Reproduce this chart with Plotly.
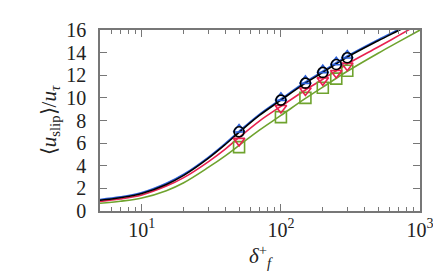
import plotly.graph_objects as go
import math

# curve sample points
x_curve = [5, 7, 10, 15, 20, 30, 40, 50, 70, 100, 150, 200, 300, 500, 700, 1000]
y_black = [0.95, 1.17, 1.55, 2.35, 3.15, 4.65, 5.9, 6.95, 8.45, 9.8, 11.3, 12.25, 13.6, 15.05, 15.95, 16.9]
y_blue = [1.02, 1.25, 1.63, 2.45, 3.25, 4.75, 6.0, 7.05, 8.55, 9.9, 11.4, 12.35, 13.7, 15.15, 16.05, 17.0]
y_red = [0.85, 1.06, 1.42, 2.2, 2.95, 4.35, 5.5, 6.5, 7.95, 9.25, 10.7, 11.65, 13.0, 14.5, 15.5, 16.6]
y_green = [0.68, 0.86, 1.15, 1.8, 2.5, 3.85, 4.9, 5.8, 7.15, 8.45, 9.95, 10.95, 12.35, 13.95, 14.95, 16.0]

# marker data
x_pts = [50, 100, 150, 200, 250, 300]
m_black = [7.0, 9.8, 11.3, 12.25, 12.95, 13.55]
m_blue = [7.2, 10.0, 11.5, 12.45, 13.15, 13.75]
m_red = [6.2, 9.1, 10.65, 11.55, 12.2, 12.85]
m_green = [5.65, 8.3, 10.0, 10.9, 11.7, 12.4]

x_ticks = [10, 100, 1000]
x_ticktext = ["10<sup>1</sup>", "10<sup>2</sup>", "10<sup>3</sup>"]
x_minor = [6, 7, 8, 9, 20, 30, 40, 50, 60, 70, 80, 90, 200, 300, 400, 500, 600, 700, 800, 900]
y_ticks = [0, 2, 4, 6, 8, 10, 12, 14, 16]

c_black = "#000000"
c_blue = "#2b5fd9"
c_red = "#e8214f"
c_green = "#6fa32e"

fig = go.Figure()
for yv, col in [(y_green, c_green), (y_red, c_red), (y_blue, c_blue), (y_black, c_black)]:
    fig.add_trace(go.Scatter(x=x_curve, y=yv, mode="lines", line=dict(color=col, width=1.6, shape="spline", smoothing=1.0),
                             showlegend=False, cliponaxis=True))

for yv, col, sym, sz in [(m_green, c_green, "square-open", 11), (m_red, c_red, "triangle-down-open", 10),
                         (m_blue, c_blue, "triangle-up-open", 10), (m_black, c_black, "circle-open", 10)]:
    fig.add_trace(go.Scatter(x=x_pts, y=yv, mode="markers",
                             marker=dict(symbol=sym, size=sz, color=col, line=dict(color=col, width=1.6)),
                             showlegend=False))

font = "Liberation Serif"
fig.update_layout(
    width=441, height=280,
    margin=dict(l=92, r=29, t=22, b=77),
    paper_bgcolor="white", plot_bgcolor="white",
    font=dict(family=font, size=20, color="#222"),
    xaxis=dict(type="log", range=[math.log10(5), 3], tickmode="array", tickvals=x_ticks, ticktext=x_ticktext,
               ticks="inside", ticklen=7, tickwidth=1, tickcolor="#777", showline=True, linecolor="#777", linewidth=1.5,
               mirror="allticks", showgrid=False, zeroline=False,
               tickfont=dict(family=font, size=20),
               minor=dict(tickmode="array", tickvals=x_minor, ticks="inside", ticklen=4, tickcolor="#777", tickwidth=1),
               title=dict(text="<i>δ</i><sup>+</sup><sub><i>f</i></sub>", font=dict(family=font, size=21), standoff=9)),
    yaxis=dict(range=[0, 16], tickmode="array", tickvals=y_ticks, ticks="inside", ticklen=7, tickwidth=1,
               tickcolor="#777", showline=True, linecolor="#777", linewidth=1.5, mirror="allticks",
               showgrid=False, zeroline=False, ticklabelstandoff=8,
               tickfont=dict(family=font, size=20),
               title=dict(text="⟨<i>u</i><sub>slip</sub>⟩/<i>u</i><sub><i>τ</i></sub>", font=dict(family=font, size=21), standoff=4)),
)
fig.write_html("out.html")
